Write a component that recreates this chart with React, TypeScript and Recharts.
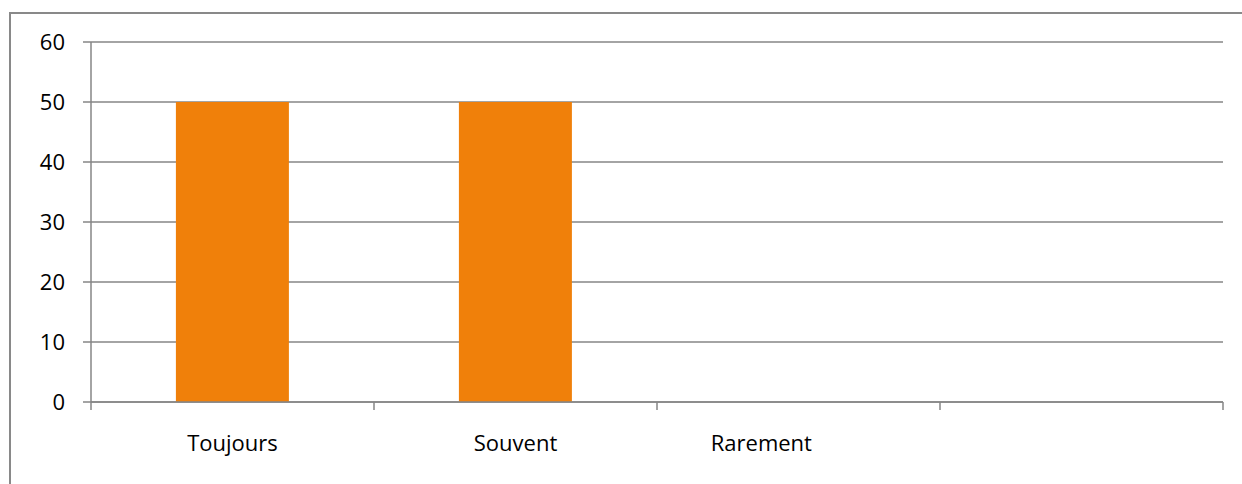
import { BarChart, Bar, XAxis, YAxis, CartesianGrid } from 'recharts'

// categories as labelled in the source sheet (the last slot has no label)
const categories = ['Toujours', 'Souvent', 'Rarement\u00a0\u00a0\u00a0\u00a0\u00a0\u00a0\u00a0\u00a0\u00a0\u00a0\u00a0\u00a0\u00a0', '']
const values = [50, 50, 0, 0]
const yTicks = [0, 10, 20, 30, 40, 50, 60]

const data = categories.map((label, i) => ({ label, value: values[i] }))

const GRID = '#868686'
const FONT = '"Open Sans", sans-serif'

function CategoryTick(props: any) {
  const { x, y, payload, index, visibleTicksCount, width } = props
  const half = payload.offset || width / visibleTicksCount / 2
  return (
    <g>
      <line x1={x - half} x2={x - half} y1={y - 8} y2={y} stroke={GRID} strokeWidth={1.5} />
      {index === visibleTicksCount - 1 && (
        <line x1={x + half} x2={x + half} y1={y - 8} y2={y} stroke={GRID} strokeWidth={1.5} />
      )}
      <text
        x={x}
        y={y + 41}
        textAnchor="middle"
        fill="#000"
        fontSize={22}
        fontFamily={FONT}
        style={{ whiteSpace: 'pre' }}
      >
        {payload.value}
      </text>
    </g>
  )
}

export default function App() {
  return (
    <div style={{ position: 'absolute', left: 0, top: 0, width: 1242, height: 484, overflow: 'hidden', background: '#fff' }}>
      <div
        style={{
          position: 'absolute',
          left: 9,
          top: 12,
          width: 1300,
          height: 500,
          border: '2px solid #898989',
        }}
      />
      <div style={{ position: 'absolute', left: 0, top: 0 }}>
        <BarChart
          width={1242}
          height={484}
          data={data}
          margin={{ top: 42, right: 19, left: 0, bottom: 0 }}
          barCategoryGap="30%"
        >
          <CartesianGrid vertical={false} stroke={GRID} strokeWidth={1.5} />
          <XAxis
            dataKey="label"
            height={82}
            interval={0}
            axisLine={{ stroke: GRID, strokeWidth: 1.5 }}
            tickLine={false}
            tickSize={8}
            tickMargin={0}
            tick={<CategoryTick />}
          />
          <YAxis
            width={91}
            domain={[0, 60]}
            ticks={yTicks}
            interval={0}
            axisLine={{ stroke: GRID, strokeWidth: 1.5 }}
            tickLine={{ stroke: GRID, strokeWidth: 1.5 }}
            tickSize={8}
            tickMargin={18}
            tick={{ fill: '#000', fontSize: 22, fontFamily: FONT }}
          />
          <Bar dataKey="value" fill="#F0800A" isAnimationActive={false} />
        </BarChart>
      </div>
    </div>
  )
}
